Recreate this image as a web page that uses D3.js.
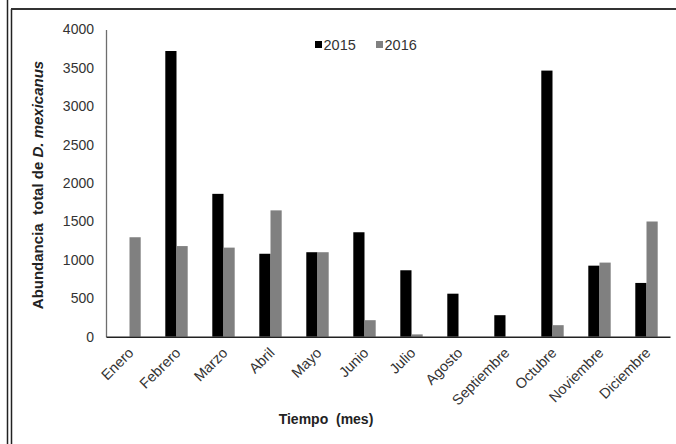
<!DOCTYPE html>
<html>
<head>
<meta charset="utf-8">
<script src="https://cdn.jsdelivr.net/npm/d3@7"></script>
<style>
  body { margin: 0; background: #fff; }
  text { font-family: "Liberation Sans", Arial, sans-serif; }
</style>
</head>
<body>
<div id="chart"></div>
<script>
// datos
const meses = ["Enero", "Febrero", "Marzo", "Abril", "Mayo", "Junio", "Julio",
  "Agosto", "Septiembre", "Octubre", "Noviembre", "Diciembre"];
const anios = ["2015", "2016"];
const abund2015 = [0, 3720, 1860, 1080, 1100, 1360, 865, 560, 280, 3465, 925, 700];
const abund2016 = [1295, 1180, 1160, 1645, 1100, 215, 30, 0, 0, 150, 965, 1500];
const yTicks = [0, 500, 1000, 1500, 2000, 2500, 3000, 3500, 4000];

const WIDTH = 676, HEIGHT = 444;
const colores = {"2015": "#000000", "2016": "#808080"};

const svg = d3.select("#chart")
    .append("svg")
    .attr("width", WIDTH)
    .attr("height", HEIGHT);

// marco de la figura (doble linea a la izquierda, linea arriba)
svg.append("line").attr("x1", 7.5).attr("x2", 7.5).attr("y1", 0).attr("y2", HEIGHT)
    .attr("stroke", "#222").attr("stroke-width", 1.5);
svg.append("line").attr("x1", 11.5).attr("x2", 11.5).attr("y1", 9).attr("y2", HEIGHT)
    .attr("stroke", "#222").attr("stroke-width", 1.5);
svg.append("line").attr("x1", 11).attr("x2", WIDTH).attr("y1", 9).attr("y2", 9)
    .attr("stroke", "#333").attr("stroke-width", 2);

const mLeft = 106, mRight = 670, mTop = 29.5, mBottom = 336.7;

const x0 = d3.scaleBand().domain(meses).range([mLeft, mRight]).padding(0);
const bw = x0.bandwidth();
const x1 = d3.scaleBand().domain(anios).range([0, bw])
    .paddingInner(0).paddingOuter((bw / 11.2 - 2) / 2);
const y = d3.scaleLinear().domain([0, 4000]).range([mBottom, mTop]);

// barras
const filas = meses.map((m, i) => ({mes: m, valores: [
  {anio: "2015", v: abund2015[i]},
  {anio: "2016", v: abund2016[i]}
]}));

svg.append("g").selectAll("g")
    .data(filas)
    .enter()
    .append("g")
    .attr("transform", d => `translate(${x0(d.mes)},0)`)
    .selectAll("rect")
    .data(d => d.valores.filter(e => e.v > 0))
    .enter()
    .append("rect")
    .attr("x", d => x1(d.anio))
    .attr("y", d => y(d.v))
    .attr("width", x1.bandwidth())
    .attr("height", d => y(0) - y(d.v))
    .attr("fill", d => colores[d.anio]);

// eje y
const gy = svg.append("g")
    .attr("transform", `translate(${mLeft},0)`)
    .call(d3.axisLeft(y).tickValues(yTicks).tickFormat(d3.format("d"))
      .tickSize(0).tickPadding(12));
gy.select(".domain").attr("stroke", "#6e6e6e").attr("stroke-width", 1.3);
gy.selectAll("text").attr("font-size", 14).attr("fill", "#333")
    .attr("font-family", "Liberation Sans, Arial, sans-serif");

// eje x
const gx = svg.append("g")
    .attr("transform", `translate(0,${mBottom})`)
    .call(d3.axisBottom(x0).tickSize(0).tickFormat(""));
gx.select(".domain").attr("stroke", "#222").attr("stroke-width", 1.5);

svg.append("g").selectAll("text")
    .data(meses)
    .enter()
    .append("text")
    .attr("transform", d => `translate(${x0(d) + bw / 2 + 5},${mBottom + 17}) rotate(-45)`)
    .attr("text-anchor", "end")
    .attr("font-size", 14.5)
    .attr("fill", "#333")
    .text(d => d);

// titulos
svg.append("text")
    .attr("x", 326)
    .attr("y", 424)
    .attr("text-anchor", "middle")
    .attr("font-size", 14)
    .attr("font-weight", "bold")
    .attr("fill", "#222")
    .attr("xml:space", "preserve")
    .text("Tiempo  (mes)");

const yt = svg.append("text")
    .attr("transform", "translate(43,185) rotate(-90)")
    .attr("text-anchor", "middle")
    .attr("font-size", 15)
    .attr("font-weight", "bold")
    .attr("fill", "#222")
    .attr("xml:space", "preserve");
yt.append("tspan").text("Abundancia  total de ");
yt.append("tspan").attr("font-style", "italic").text("D. mexicanus");

// leyenda
const leyenda = svg.append("g").attr("transform", "translate(315,45)");
const items = leyenda.selectAll("g")
    .data(anios)
    .enter()
    .append("g")
    .attr("transform", (d, i) => `translate(${i * 61},0)`);
items.append("rect")
    .attr("x", 0).attr("y", -4)
    .attr("width", 7).attr("height", 7)
    .attr("fill", d => colores[d]);
items.append("text")
    .attr("x", 8.5).attr("y", 5)
    .attr("font-size", 14.5)
    .attr("fill", "#333")
    .text(d => d);
</script>
</body>
</html>
